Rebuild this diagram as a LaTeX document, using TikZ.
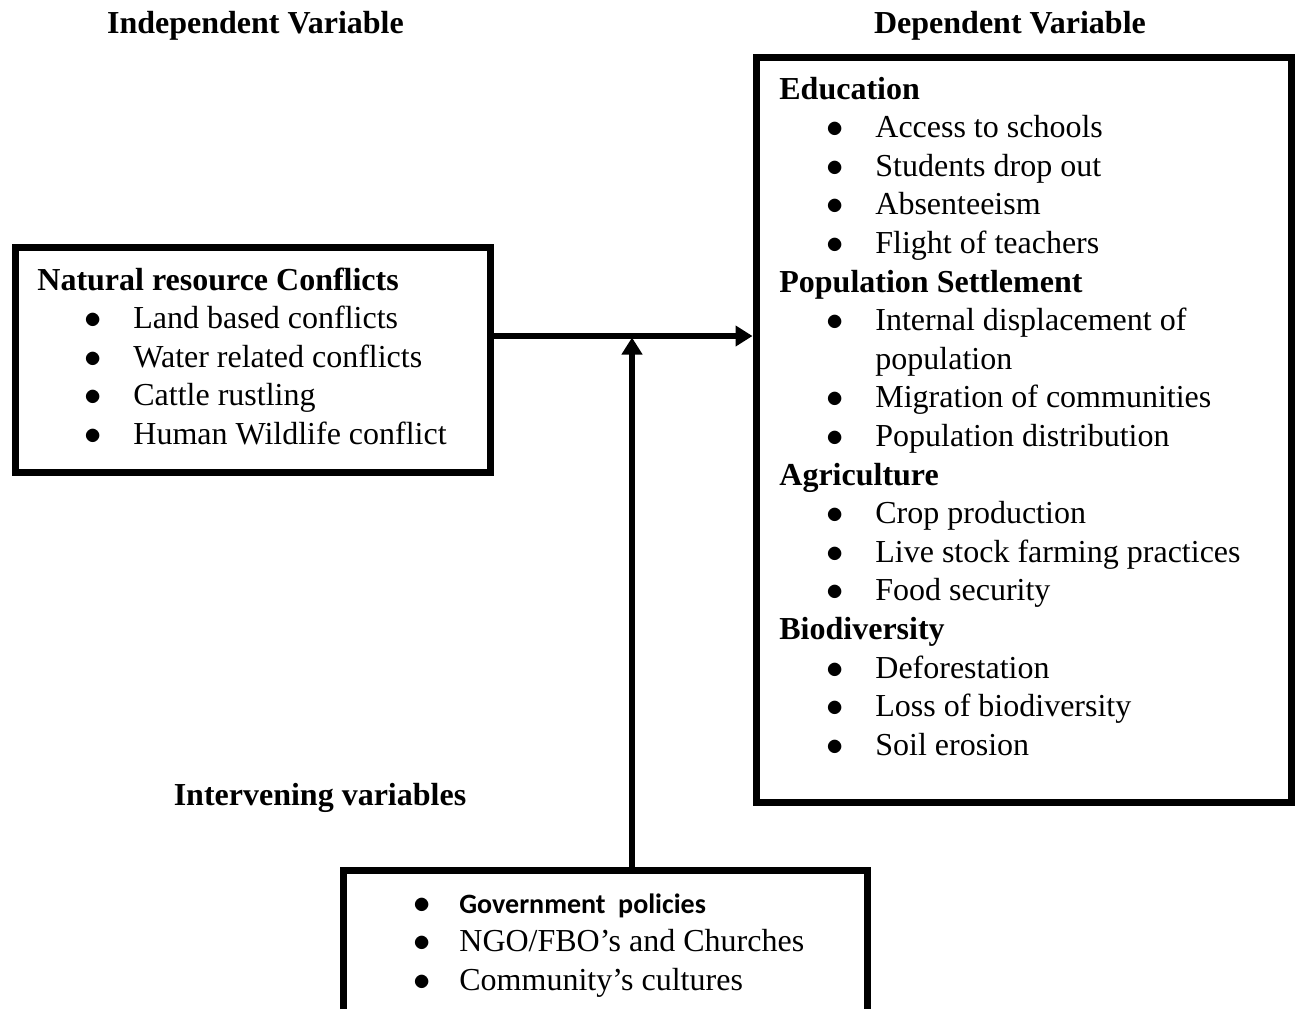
\documentclass[tikz,border=0pt]{standalone}
\usepackage{fontspec}
\setmainfont{Liberation Serif}
\newfontfamily\calibrifont{Carlito}
\usetikzlibrary{arrows.meta}
\newcommand{\bitem}[1]{\hspace*{23.5pt}\makebox[24.5pt][l]{$\bullet$}#1}
\newcommand{\bdot}{\makebox[23pt][l]{$\bullet$}}

\begin{document}
\begin{tikzpicture}[x=0.5pt, y=-0.5pt, font=\fontsize{16}{19.3}\selectfont,
    varbox/.style={draw, line width=3.5pt, inner sep=0pt, outer sep=0pt, anchor=north west},
    title/.style={font=\fontsize{16}{19.3}\selectfont\bfseries, anchor=base, inner sep=0pt},
    lst/.style={anchor=base west, inner sep=0pt},
    link/.style={line width=3pt, -{Triangle[length=8.5pt,width=10pt]}}]
  \useasboundingbox (0,0) rectangle (1298,1009);

  \node[title] (indeptitle) at (255.5,33) {Independent Variable};
  \node[title] (deptitle) at (1010,33) {Dependent Variable};
  \node[title] (intertitle) at (320,805) {Intervening variables};

  \node[varbox, minimum width=237.25pt, minimum height=112.5pt] (indep) at (15.5,247) {};
  \node[varbox, minimum width=267.5pt, minimum height=372.5pt] (dep) at (756,57) {};
  \node[inner sep=0pt, outer sep=0pt, minimum width=262pt, minimum height=69.5pt, anchor=north west] (interv) at (343,870) {};
  \draw[line width=3.5pt] (interv.south west) -- (interv.north west) -- (interv.north east) -- (interv.south east);

  \node[lst] (indeplist) at (37,290) {\begin{tabular}[t]{@{}l@{}}
      \textbf{Natural resource Conflicts}\\
      \bitem{Land based conflicts}\\
      \bitem{Water related conflicts}\\
      \bitem{Cattle rustling}\\
      \bitem{Human Wildlife conflict}
    \end{tabular}};

  \node[lst] (deplist) at (779,99) {\begin{tabular}[t]{@{}l@{}}
      \textbf{Education}\\
      \bitem{Access to schools}\\
      \bitem{Students drop out}\\
      \bitem{Absenteeism}\\
      \bitem{Flight of teachers}\\
      \textbf{Population Settlement}\\
      \bitem{Internal displacement of}\\
      \hspace*{48pt}population\\
      \bitem{Migration of communities}\\
      \bitem{Population distribution}\\
      \textbf{Agriculture}\\
      \bitem{Crop production}\\
      \bitem{Live stock farming practices}\\
      \bitem{Food security}\\
      \textbf{Biodiversity}\\
      \bitem{Deforestation}\\
      \bitem{Loss of biodiversity}\\
      \bitem{Soil erosion}
    \end{tabular}};

  \node[lst] (intervlist) at (413,913) {\begin{tabular}[t]{@{}l@{}}
      \bdot{\calibrifont\bfseries\fontsize{14}{19.3}\selectfont Government\ \ policies}\\
      \bdot NGO/FBO’s and Churches\\
      \bdot Community’s cultures
    \end{tabular}};

  \coordinate (jn) at (632,336);
  \draw[link] (indep.east |- jn) -- ([xshift=-1.75pt]dep.west |- jn);
  \draw[link] (interv.north -| jn) -- ([yshift=-0.75pt]jn);
\end{tikzpicture}
\end{document}
